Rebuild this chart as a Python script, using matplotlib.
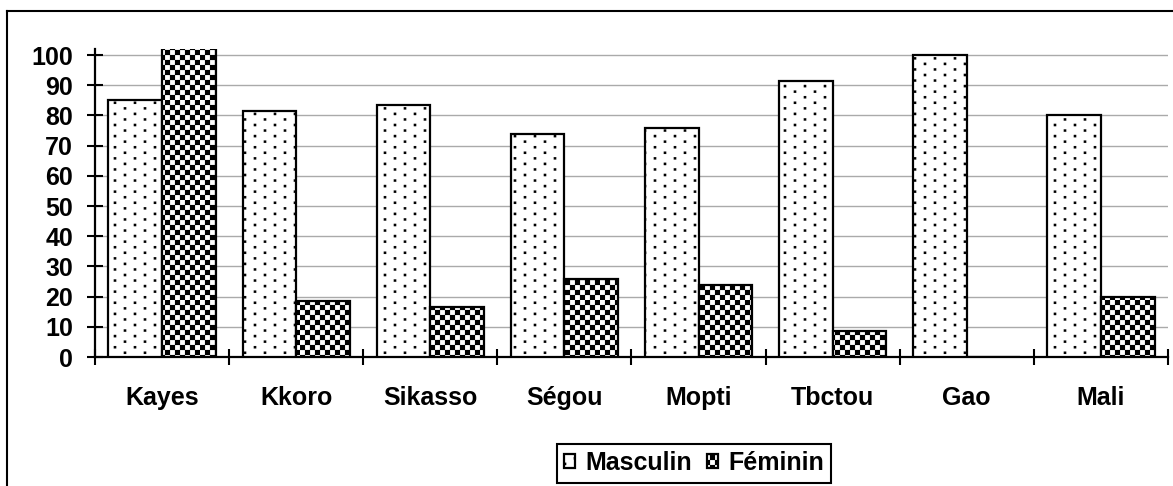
import warnings
import numpy as np
import matplotlib
matplotlib.use("Agg")
import matplotlib.pyplot as plt
import matplotlib.hatch as mhatch
from matplotlib.path import Path
from matplotlib.lines import Line2D

warnings.filterwarnings("ignore")

# données
regions = ["Kayes", "Kkoro", "Sikasso", "Ségou", "Mopti", "Tbctou", "Gao", "Mali"]
masculin = [85, 81.5, 83.5, 74, 76, 91.5, 100, 80]
feminin = [115, 18.5, 16.5, 26, 24, 8.5, 0, 20]
yticks = list(range(0, 101, 10))


# motifs Excel : points espacés (d) et damier (c)
class SquareTiles(mhatch.HatchPatternBase):
    char = None

    def __init__(self, hatch, density):
        self.squares = self.layout() if self.char in hatch else []
        self.num_vertices = len(self.squares) * 5

    def set_vertices_and_codes(self, vertices, codes):
        parts = []
        for cx, cy, s in self.squares:
            parts.append([[cx - s, cy - s], [cx + s, cy - s], [cx + s, cy + s],
                          [cx - s, cy + s], [cx - s, cy - s]])
        vertices[:] = np.concatenate(parts)
        codes[:] = np.tile([Path.MOVETO, Path.LINETO, Path.LINETO,
                            Path.LINETO, Path.CLOSEPOLY], len(parts))


class Dots(SquareTiles):
    char = "d"

    def layout(self):
        ncol, nrow = 5, 18
        out = []
        for j in range(nrow):
            for i in range(ncol):
                out.append(((i + 0.25 + 0.5 * (j % 2)) / ncol, (j + 0.5) / nrow, 0.012))
        return out


class Checker(SquareTiles):
    char = "c"

    def layout(self):
        n = 20
        return [((i + 0.5) / n, (j + 0.5) / n, 0.5 / n)
                for i in range(n) for j in range(n) if (i + j) % 2 == 0]


mhatch._hatch_types.extend([Dots, Checker])

plt.rcParams["font.family"] = ["Liberation Sans", "DejaVu Sans"]
plt.rcParams["font.weight"] = "bold"
plt.rcParams["font.size"] = 18
plt.rcParams["hatch.linewidth"] = 0.1
plt.rcParams["hatch.color"] = "black"

fig = plt.figure(figsize=(11.73, 4.86), dpi=100)
ax = fig.add_axes([0.0810, 0.2654, 0.9147, 0.6337])

x = np.arange(len(regions))
w = 0.4
ax.bar(x - w / 2, masculin, w, color="white", edgecolor="black", linewidth=1.6,
       hatch="d", label="Masculin", zorder=3)
ax.bar(x + w / 2, feminin, w, color="white", edgecolor="black", linewidth=1.6,
       hatch="c", label="Féminin", zorder=3)

ax.set_xlim(-0.5, len(regions) - 0.5)
ax.set_ylim(0, 102)

ax.set_yticks(yticks)
ax.tick_params(axis="y", direction="inout", length=11.5, width=1.5, pad=10)
ax.yaxis.grid(True, color="#aaaaaa", linewidth=1.0, zorder=0)
ax.set_axisbelow(True)

ax.set_xticks(x)
ax.set_xticklabels(regions)
ax.set_xticks(np.arange(len(regions) + 1) - 0.5, minor=True)
ax.tick_params(axis="x", which="major", length=0, pad=21)
ax.tick_params(axis="x", which="minor", direction="inout", length=12, width=1.5)

for side in ["top", "right"]:
    ax.spines[side].set_visible(False)
for side in ["left", "bottom"]:
    ax.spines[side].set_linewidth(1.6)

leg = fig.legend(loc="center", bbox_to_anchor=(694 / 1173, 23 / 486), ncol=2,
                 fancybox=False, edgecolor="black", framealpha=1,
                 handlelength=0.45, handleheight=0.45, handletextpad=0.4,
                 columnspacing=0.6, borderpad=0.3, borderaxespad=0)
leg.get_frame().set_linewidth(1.5)

# cadre du graphique
fig.add_artist(Line2D([7 / 1173, 7 / 1173], [0, 1 - 11 / 486], color="black", linewidth=1.5))
fig.add_artist(Line2D([7 / 1173, 1], [1 - 11 / 486, 1 - 11 / 486], color="black", linewidth=1.5))

fig.savefig("out.png", dpi=100)
